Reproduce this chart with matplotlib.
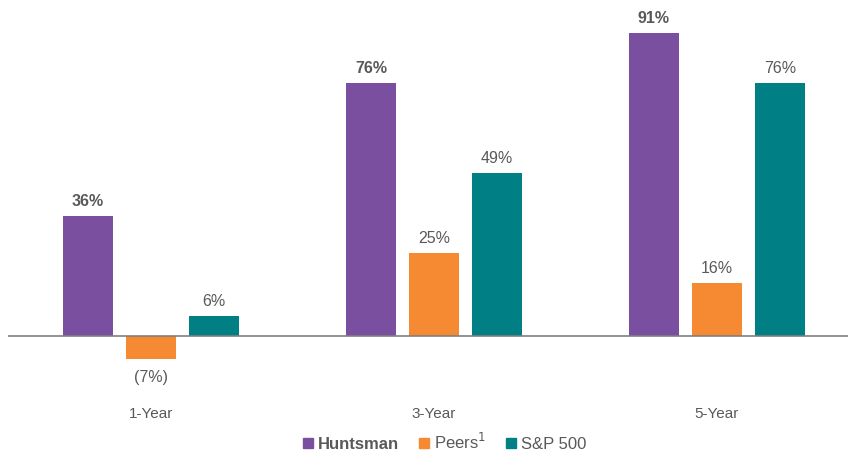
import numpy as np
import matplotlib.pyplot as plt
from matplotlib.patches import Patch

plt.rcParams['font.family'] = ['Liberation Sans', 'DejaVu Sans']

periods = ['1-Year', '3-Year', '5-Year']
huntsman = [36, 76, 91]
peers = [-7, 25, 16]
sp500 = [6, 49, 76]
series_names = ['Huntsman', 'Peers$^{1}$', 'S&P 500']
colors = ['#7B4FA0', '#F58A32', '#008085']

W, H = 848, 457
fig = plt.figure(figsize=(W / 100, H / 100), dpi=100)
# axes from x=8..848 px, y=20..370 px (top-down)
ax = fig.add_axes([8 / W, 1 - 370 / H, 1 - 8 / W, 350 / H])

x = np.arange(len(periods))
width = 50 / 283
step = 63 / 283
txt = '#595959'

for i, (vals, c) in enumerate(zip([huntsman, peers, sp500], colors)):
    pos = x + (i - 1) * step
    ax.bar(pos, vals, width, color=c, zorder=2)
    for p, v in zip(pos, vals):
        lab = f'{v}%' if v >= 0 else f'({-v}%)'
        off = 5 if v >= 0 else -8
        ax.annotate(lab, (p, v), xytext=(0, off), textcoords='offset points',
                    ha='center', va='bottom' if v >= 0 else 'top',
                    fontsize=11.5, color=txt,
                    fontweight='bold' if i == 0 else 'normal')

ax.axhline(0, color='#7f7f7f', lw=1.2, zorder=3)
ax.set_xlim((8 - 151) / 283, (848 - 151) / 283)
ax.set_ylim(-(370 - 336) / 3.33, (336 - 20) / 3.33)
ax.set_xticks(x)
ax.set_xticklabels(periods, fontsize=11, color=txt)
ax.tick_params(axis='x', length=0, pad=27)
ax.set_yticks([])
for s in ax.spines.values():
    s.set_visible(False)

handles = [Patch(color=c) for c in colors]
leg = fig.legend(handles, series_names, loc='center', ncol=3,
                 bbox_to_anchor=(445 / W, 1 - 442 / H), frameon=False,
                 fontsize=12, handlelength=0.6, handleheight=0.6,
                 handletextpad=0.3, columnspacing=1.2)
for i, t in enumerate(leg.get_texts()):
    t.set_color(txt)
    if i == 0:
        t.set_fontweight('bold')

fig.savefig('out.png', dpi=100)
